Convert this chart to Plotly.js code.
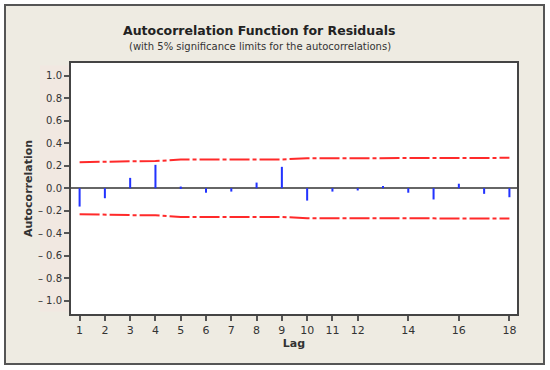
<!DOCTYPE html>
<html><head><meta charset="utf-8">
<script src="https://cdn.plot.ly/plotly-3.0.1.min.js"></script>
<style>
body{margin:0;background:#fff;}
#frame{position:absolute;left:4px;top:4px;width:537px;height:357px;border:2px solid #555;background:#eeebe2;}
#chart{position:absolute;left:0;top:0;width:550px;height:370px;}
</style></head><body>
<div id="frame"></div>
<div id="chart"></div>
<script>
const lags = [1,2,3,4,5,6,7,8,9,10,11,12,13,14,15,16,17,18];
const acf = [-0.163,-0.089,0.092,0.208,0.015,-0.04,-0.03,0.05,0.19,-0.11,-0.03,-0.02,0.02,-0.04,-0.10,0.04,-0.05,-0.08];
const upperLimit = [0.231,0.237,0.239,0.241,0.255,0.255,0.255,0.256,0.256,0.266,0.268,0.268,0.268,0.268,0.268,0.270,0.270,0.270];
const lowerLimit = [-0.231,-0.237,-0.239,-0.241,-0.255,-0.255,-0.255,-0.256,-0.256,-0.266,-0.268,-0.268,-0.268,-0.268,-0.268,-0.270,-0.270,-0.270];
const xTickVals = [1,2,3,4,5,6,7,8,9,10,11,12,14,16,18];
const yTickVals = [1.0,0.8,0.6,0.4,0.2,0.0,-0.2,-0.4,-0.6,-0.8,-1.0];
const yTickText = ["1.0","0.8","0.6","0.4","0.2","0.0","\u2013 0.2","\u2013 0.4","\u2013 0.6","\u2013 0.8","\u2013 1.0"];

const font = "DejaVu Sans, Verdana, sans-serif";
const limDash = "20px,3px,4px,3px";
const traces = [
  {type:'bar', x:lags, y:acf, base:0, width:0.08, marker:{color:'#2233ff', line:{width:0}}, hoverinfo:'skip'},
  {type:'scatter', mode:'lines', x:lags, y:upperLimit, line:{color:'#ff2a2a', width:2, dash:limDash}},
  {type:'scatter', mode:'lines', x:lags, y:lowerLimit, line:{color:'#ff2a2a', width:2, dash:limDash}}
];
const layout = {
  width:550, height:370,
  margin:{l:71, r:33, t:63, b:56},
  paper_bgcolor:'rgba(0,0,0,0)', plot_bgcolor:'#fff',
  showlegend:false,
  font:{family:font, color:'#333'},
  xaxis:{range:[0.66,18.3], tickvals:xTickVals, ticks:'outside', ticklen:5, tickwidth:1.5, tickcolor:'#555',
    showgrid:false, zeroline:false, showline:true, linecolor:'#444', linewidth:2, mirror:true,
    tickfont:{size:11, color:'#333', family:font},
    title:{text:'<b>Lag</b>', font:{size:11, color:'#333', family:font}, standoff:2}},
  yaxis:{range:[-1.118,1.113], tickvals:yTickVals, ticktext:yTickText, ticks:'outside', ticklen:5, tickwidth:1.5, tickcolor:'#555',
    showgrid:false, zeroline:true, zerolinecolor:'#666', zerolinewidth:2, showline:true, linecolor:'#444', linewidth:2, mirror:true,
    tickfont:{size:10, color:'#333', family:font},
    title:{text:'<b>Autocorrelation</b>', font:{size:11, color:'#333', family:font}, standoff:3}},
  shapes:[
    {type:'rect', xref:'paper', yref:'paper', x0:(40-71)/446, x1:-0.002, y0:0.01, y1:0.99, fillcolor:'#f1e8e1', line:{width:0}, layer:'below'}
  ],
  annotations:[
    {text:'<b>Autocorrelation Function for Residuals</b>', xref:'paper', yref:'paper', x:(259-71)/446, y:1+(63-30)/251, xanchor:'center', yanchor:'middle', showarrow:false, font:{size:12.5, color:'#222', family:font}},
    {text:'(with 5% significance limits for the autocorrelations)', xref:'paper', yref:'paper', x:(260-71)/446, y:1+(63-46)/251, xanchor:'center', yanchor:'middle', showarrow:false, font:{size:10, color:'#333', family:font}}
  ]
};
Plotly.newPlot('chart', traces, layout, {displayModeBar:false});
</script></body></html>
